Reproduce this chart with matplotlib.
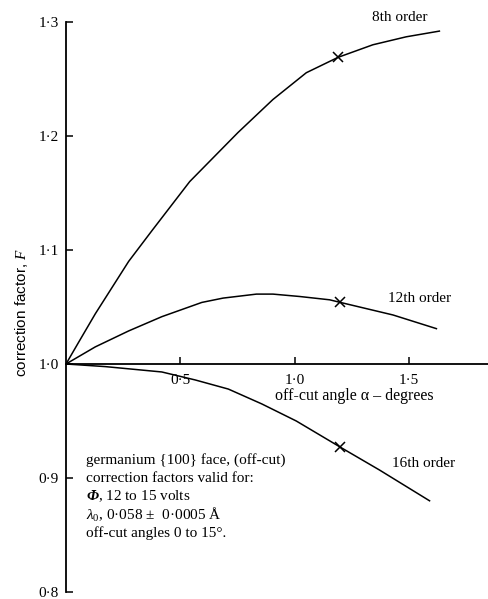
import matplotlib.pyplot as plt
import numpy as np

# --- Data ---
x8 = [0.0, 0.055, 0.128, 0.274, 0.376, 0.541, 0.752, 0.905, 1.051, 1.19, 1.342, 1.488, 1.633]
y8 = [1.0, 1.019, 1.044, 1.090, 1.117, 1.160, 1.203, 1.232, 1.2555, 1.269, 1.280, 1.287, 1.292]

x12 = [0.0, 0.128, 0.274, 0.419, 0.594, 0.687, 0.833, 0.905, 1.022, 1.153, 1.2, 1.43, 1.62]
y12 = [1.0, 1.0150, 1.0290, 1.0415, 1.054, 1.0578, 1.0613, 1.0613, 1.0592, 1.0563, 1.054, 1.043, 1.031]

x16 = [0.0, 0.172, 0.419, 0.565, 0.71, 0.856, 1.007, 1.2, 1.371, 1.59]
y16 = [1.0, 0.9977, 0.993, 0.986, 0.978, 0.965, 0.950, 0.927, 0.907, 0.880]

# marked points (x) on each curve
mark_x = [1.19, 1.2, 1.2]
mark_y = [1.269, 1.054, 0.927]

xticks = [0.5, 1.0, 1.5]
yticks = [0.8, 0.9, 1.0, 1.1, 1.2, 1.3]

note = ["germanium {100} face, (off-cut)",
        "correction factors valid for:",
        r"$\mathbf{\Phi}$, 12 to 15 volts",
        r"$\lambda_0$, 0·058 $\pm$  0·0005 Å",
        "off-cut angles 0 to 15°."]

plt.rcParams['font.family'] = 'Liberation Serif'
plt.rcParams['mathtext.fontset'] = 'custom'
plt.rcParams['mathtext.rm'] = 'Liberation Serif'
plt.rcParams['mathtext.it'] = 'Liberation Serif:italic'
plt.rcParams['mathtext.bf'] = 'Liberation Serif:italic:bold'


def dot(v, pos=None):
    return f"{v:.1f}".replace('.', '·')


fig = plt.figure(figsize=(4.89, 5.99), dpi=100)
ax = fig.add_axes([0.135, 0.0117, 0.865, 0.9516])

for xs, ys in [(x8, y8), (x12, y12), (x16, y16)]:
    ax.plot(xs, ys, color='black', lw=1.1, solid_joinstyle='round')
ax.plot(mark_x, mark_y, ls='none', marker='x', ms=7, mew=1.1, color='black')

ax.set_xlim(0, 1.85)
ax.set_ylim(0.8, 1.3)

# axes: y spine on the left, x spine through F = 1.0
ax.spines['top'].set_visible(False)
ax.spines['right'].set_visible(False)
ax.spines['bottom'].set_position(('data', 1.0))
ax.spines['left'].set_linewidth(1.3)
ax.spines['bottom'].set_linewidth(1.3)

ax.set_yticks(yticks)
ax.set_yticklabels([dot(v) for v in yticks], fontsize=11)
ax.set_xticks(xticks)
ax.set_xticklabels([dot(v) for v in xticks], fontsize=11)
ax.tick_params(axis='both', direction='in', length=5, width=1.1, pad=5)
ax.tick_params(axis='x', pad=7)
for lab in ax.get_xticklabels():
    lab.set_bbox(dict(facecolor='white', edgecolor='none', pad=1))

fig.text(0.724, 0.339, 'off-cut angle α – degrees', ha='center', va='center',
         fontsize=11.5)
fig.text(0.043, 0.478, 'correction factor, $F$', rotation=90, ha='center',
         va='center', fontsize=11, family='Liberation Sans')

# curve labels
fig.text(0.818, 0.970, '8th order', ha='center', va='center', fontsize=11)
fig.text(0.859, 0.501, '12th order', ha='center', va='center', fontsize=11)
fig.text(0.867, 0.227, '16th order', ha='center', va='center', fontsize=11)

# note block
for i, line in enumerate(note):
    fig.text(0.176, 0.232 - i * 0.0305, line, ha='left', va='center', fontsize=11)

fig.savefig('out.png', dpi=100)
